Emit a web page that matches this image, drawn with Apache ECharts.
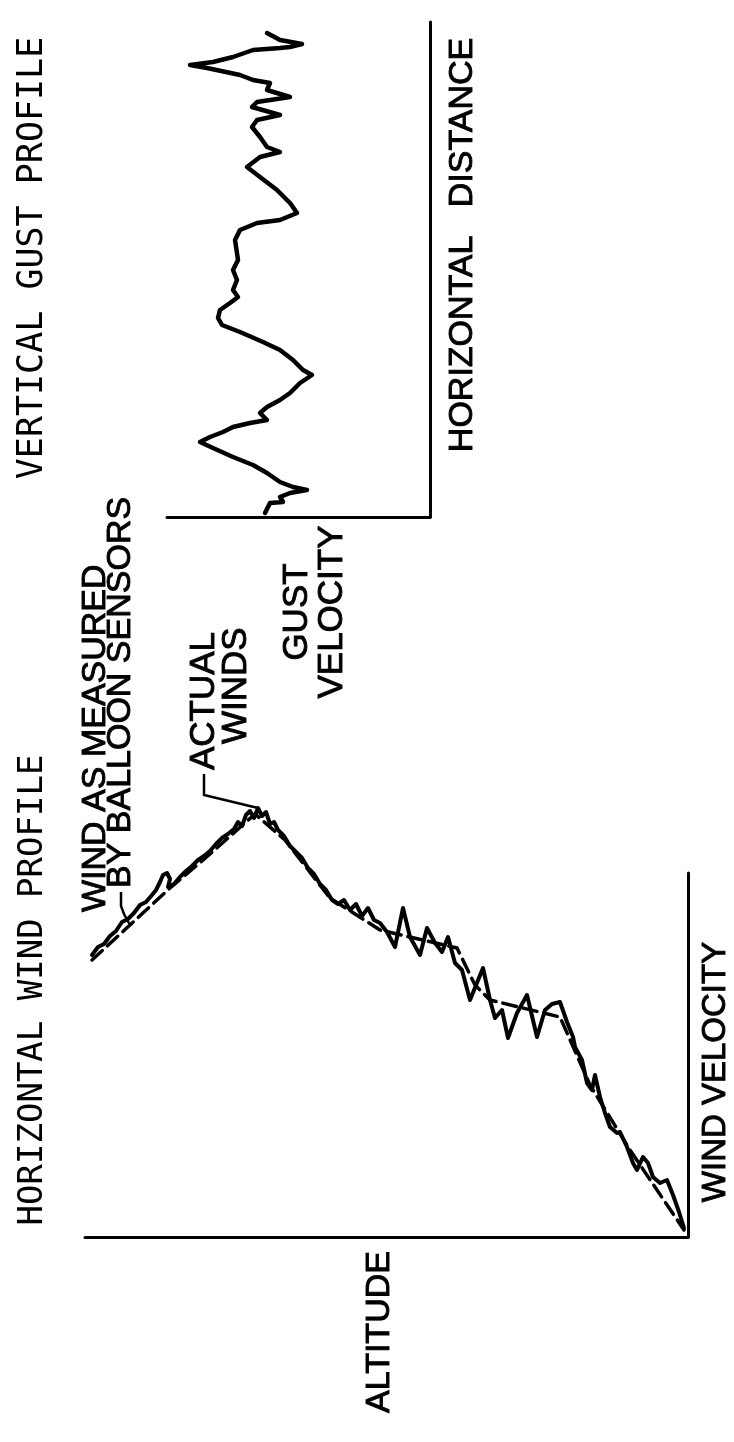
<!DOCTYPE html>
<html><head><meta charset="utf-8">
<script src="https://cdn.jsdelivr.net/npm/echarts@6/dist/echarts.min.js"></script>
<style>html,body{margin:0;padding:0;background:#fff}#c{width:734px;height:1442px}</style>
</head><body><div id="c"></div>
<script>
// Horizontal wind profile: altitude (arbitrary units) vs wind velocity (arbitrary units)
const actualAltitude = [596,590,584,578,572,566,560,554,548,542,536,532,528,525,521,518,520,514,508,502,496,490,484,478,472,466,460,454,450,446,442,438,434,430,426,422,418,414,410,404,398,392,386,380,374,368,362,356,350,344,338,332,326,320,314,308,301,293,285,278,268,261,253,246,240,233,226,218,205,198,193,186,180,171,161,151,143,136,128,121,115,113,106,101,96,93,88,83,78,71,68,61,55,51,45,40,35,28,21,15,9,4];
const actualWind     = [282,290,293,301,306,315,318,324,332,335,342,347,355,362,364,358,350,353,360,366,371,377,381,386,393,399,403,408,415,411,422,426,419,429,421,425,413,415,407,401,391,385,379,369,363,353,347,337,333,337,327,333,321,329,317,314,305,290,329,300,282,309,294,285,300,274,267,237,269,237,219,227,199,224,242,200,227,233,235,215,200,190,177,154,147,162,140,124,110,104,105,90,74,67,80,74,60,54,57,42,25,9];
const measuredAltitude = [596,558,518,478,433,403,358,308,231,213,198,128,98,58,4];
const measuredWind     = [277,312,349,383,423,397,339,307,289,252,237,220,152,87,7];

// Vertical gust profile: horizontal distance vs gust velocity (arbitrary units)
const gustDistance = [4,14,15,20,24,27,30,35,44,52,60,69,75,80,85,90,94,97,104,110,117,124,134,142,147,157,167,175,185,192,199,207,214,220,227,237,247,257,264,277,287,294,297,304,314,327,340,350,360,365,370,380,390,397,402,410,415,420,427,434,437,442,449,452,455,460,467,469,470,473,477,484];
const gustVelocity = [165,160,147,150,140,123,137,150,163,177,197,217,230,220,207,197,180,163,170,163,150,140,130,118,127,137,150,167,190,208,212,210,200,192,197,193,197,192,193,195,190,173,150,133,140,153,170,183,170,150,163,170,178,173,150,178,173,140,163,160,177,190,223,240,217,197,177,150,140,128,150,163];

const titles = ['HORIZONTAL WIND PROFILE', 'VERTICAL GUST PROFILE'];
const axisNames = ['ALTITUDE', 'WIND VELOCITY', 'GUST\nVELOCITY', 'HORIZONTAL   DISTANCE'];
const notes = ['WIND AS MEASURED', 'BY BALLOON SENSORS', 'ACTUAL', 'WINDS'];

const zip = (a, b) => a.map((v, i) => [v, b[i]]);
const chart = echarts.init(document.getElementById('c'), null, {renderer: 'canvas'});

const bareAxis = (extra) => Object.assign({
  type: 'value',
  axisLine: {show: true, onZero: false, lineStyle: {color: '#000', width: 3}},
  axisTick: {show: false}, axisLabel: {show: false}, splitLine: {show: false}
}, extra);

const R = Math.PI / 2;
const labelFont = '"Liberation Sans", Arial, sans-serif';
const titleFont = '"DejaVu Sans Mono", monospace';
function vtext(x, y, text, size, family, align, heavy) {
  return {type: 'text', x: x, y: y, rotation: R, silent: true,
    style: {text: text, fontSize: size, fontFamily: family, fill: '#000',
      stroke: heavy ? '#000' : null, lineWidth: heavy ? 0.9 : 0,
      align: align || 'center', textAlign: align || 'center',
      verticalAlign: 'middle', textVerticalAlign: 'middle', lineHeight: size * 1.0}};
}

const option = {
  animation: false,
  backgroundColor: '#fff',
  grid: [
    {left: 85, right: 46, top: 873, bottom: 205},
    {left: 167, right: 304, top: 22, bottom: 925}
  ],
  xAxis: [
    bareAxis({gridIndex: 0, inverse: true, min: 0, max: 603}),
    bareAxis({gridIndex: 1, inverse: true, min: 0, max: 263})
  ],
  yAxis: [
    bareAxis({gridIndex: 0, position: 'right', min: 0, max: 364}),
    bareAxis({gridIndex: 1, position: 'right', min: 0, max: 495})
  ],
  series: [
    {type: 'line', xAxisIndex: 0, yAxisIndex: 0, data: zip(measuredAltitude, measuredWind),
      showSymbol: false, clip: false, lineStyle: {color: '#000', width: 3.5, type: [14, 7], cap: 'round', join: 'round'}},
    {type: 'line', xAxisIndex: 0, yAxisIndex: 0, data: zip(actualAltitude, actualWind),
      showSymbol: false, clip: false, lineStyle: {color: '#000', width: 4, cap: 'round', join: 'round'}},
    {type: 'line', xAxisIndex: 1, yAxisIndex: 1, data: zip(gustVelocity, gustDistance),
      showSymbol: false, clip: false, lineStyle: {color: '#000', width: 4.5, cap: 'round', join: 'round'}}
  ]
};
chart.setOption(option);

const p = (a, w) => chart.convertToPixel({xAxisIndex: 0, yAxisIndex: 0}, [a, w]);
const peak = p(actualAltitude[33], actualWind[33]);
const meas = p(measuredAltitude[1], measuredWind[1]);

chart.setOption({graphic: [
  vtext(33, 990, titles[0], 34, titleFont),
  vtext(33, 258, titles[1], 35, titleFont),
  vtext(380, 1332, axisNames[0], 34, labelFont, 'center', true),
  vtext(716, 1072, axisNames[1], 33, labelFont, 'center', true),
  vtext(315, 612, axisNames[2], 35, labelFont, 'center', true),
  vtext(463, 245, axisNames[3], 34, labelFont, 'center', true),
  vtext(96, 912, notes[0], 34, labelFont, 'left', true),
  vtext(121, 888, notes[1], 34, labelFont, 'left', true),
  vtext(204, 770, notes[2], 35, labelFont, 'left', true),
  vtext(236, 744, notes[3], 35, labelFont, 'left', true),
  {type: 'polyline', silent: true, shape: {points: [[meas[0], meas[1]], [124, 914], [121, 906], [121, 892]]},
    style: {stroke: '#000', lineWidth: 2.5, fill: null}},
  {type: 'polyline', silent: true, shape: {points: [[peak[0], peak[1]], [204, 795], [204, 774]]},
    style: {stroke: '#000', lineWidth: 2.5, fill: null}}
]});
</script>
</body></html>
